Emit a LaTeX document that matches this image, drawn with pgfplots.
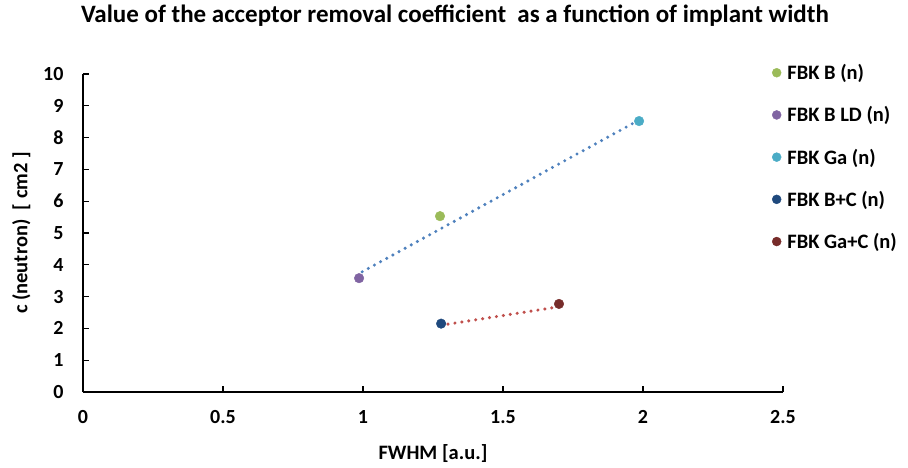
\documentclass[border=0pt]{standalone}
\usepackage{fontspec}
\setmainfont{Carlito}
\usepackage{pgfplots}
\pgfplotsset{compat=1.18}
\definecolor{cB}{HTML}{9BBB59}
\definecolor{cBLD}{HTML}{8064A2}
\definecolor{cGa}{HTML}{4BACC6}
\definecolor{cBC}{HTML}{1F497D}
\definecolor{cGaC}{HTML}{772C2A}
\definecolor{tBlue}{HTML}{4F81BD}
\definecolor{tRed}{HTML}{C0504D}
\begin{document}
\begin{tikzpicture}
\begin{axis}[
  scale only axis,
  width=700bp, height=318bp,
  xmin=0, xmax=2.5, ymin=0, ymax=10,
  xtick={0,0.5,1,1.5,2,2.5},
  ytick={0,1,...,10},
  axis x line*=bottom, axis y line*=left,
  axis line style={line width=1.6bp, black},
  tick style={line width=1.2bp, black},
  tick align=inside,
  major tick length=6bp,
  x tick label style={/pgf/number format/fixed},
  /pgf/number format/assume math mode=true,
  ticklabel style={font=\fontsize{20bp}{20bp}\selectfont\bfseries},
  xticklabel style={yshift=-15bp},
  yticklabel style={xshift=-16bp},
  xlabel={FWHM [a.u.]},
  ylabel={c (neutron)\ \ [ cm2 ]},
  label style={font=\fontsize{20.5bp}{20.5bp}\selectfont\bfseries},
  xlabel style={yshift=-14bp},
  ylabel style={yshift=6bp},
  legend style={draw=none, fill=none, at={(0.984,1.034)}, anchor=north west,
    font=\fontsize{20.5bp}{20.5bp}\selectfont\bfseries, row sep=23.5bp,
    column sep=5bp, inner sep=0pt, nodes={inner sep=1pt}},
  legend cell align=left,
  legend image code/.code={\fill[#1] (0bp,0bp) circle (4.5bp);},
  clip=false,
]
\addplot[tBlue, line width=3.4bp, line cap=round, dash pattern=on 0pt off 7bp, forget plot]
  coordinates {(0.997,3.78) (1.975,8.50)};
\addplot[tRed, line width=3.4bp, line cap=round, dash pattern=on 0pt off 7bp, forget plot]
  coordinates {(1.279,2.10) (1.70,2.68)};
\addplot[only marks, mark=*, mark size=4.8bp, cB, draw=cB] coordinates {(1.275,5.53)};
\addlegendentry{FBK B (n)}
\addplot[only marks, mark=*, mark size=4.8bp, cBLD, draw=cBLD] coordinates {(0.986,3.58)};
\addlegendentry{FBK B LD (n)}
\addplot[only marks, mark=*, mark size=4.8bp, cGa, draw=cGa] coordinates {(1.986,8.52)};
\addlegendentry{FBK Ga (n)}
\addplot[only marks, mark=*, mark size=4.8bp, cBC, draw=cBC] coordinates {(1.279,2.15)};
\addlegendentry{FBK B+C (n)}
\addplot[only marks, mark=*, mark size=4.8bp, cGaC, draw=cGaC] coordinates {(1.70,2.77)};
\addlegendentry{FBK Ga+C (n)}
\end{axis}
\node[font=\fontsize{25bp}{25bp}\selectfont\bfseries, anchor=center] at ([xshift=372bp,yshift=58bp]current axis.north west) {Value of the acceptor\ removal coefficient\ \ as a function of implant\ width};
\path ([xshift=-83bp,yshift=-76bp]current axis.south west) rectangle ++(908bp,468bp);
\end{tikzpicture}
\end{document}
